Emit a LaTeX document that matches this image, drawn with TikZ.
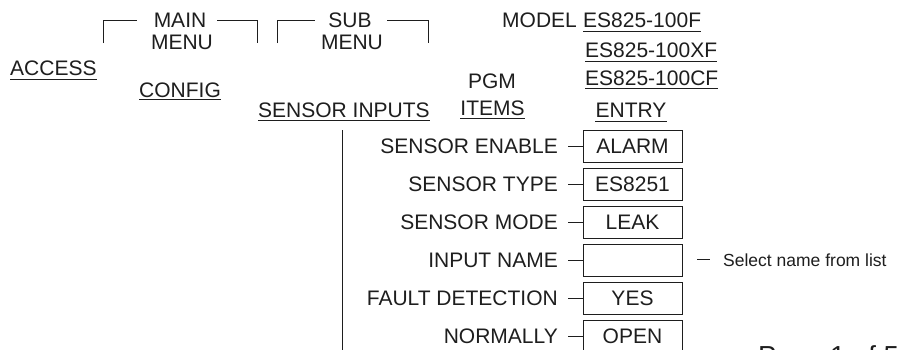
\documentclass[tikz,border=0pt]{standalone}
\usepackage{fontspec}
\setmainfont{Liberation Sans}
\definecolor{ink}{HTML}{1E1E1E}
\begin{document}
\begin{tikzpicture}[x=1pt,y=-1pt,
  lbl/.style={inner sep=0pt, text=ink, font=\fontsize{21}{25}\selectfont},
  small/.style={inner sep=0pt, text=ink, font=\fontsize{17.5}{21}\selectfont},
  big/.style={inner sep=0pt, text=ink, font=\fontsize{27.5}{32}\selectfont},
  valbox/.style={draw=ink, line width=1pt, minimum width=99pt, minimum height=32pt, inner sep=0pt,
    text height=15pt, text depth=0pt, text=ink, font=\fontsize{21}{25}\selectfont},
  ln/.style={draw=ink, line width=1pt}]
\useasboundingbox (0,0) rectangle (903,349);
\fill[white] (0,0) rectangle (903,349);

% bracket headings
\node[lbl, anchor=base] (mainA) at (180,27) {MAIN};
\node[lbl, anchor=base] (mainB) at (182,49) {MENU};
\draw[ln] (103,43) -- (103,20) -- (137,20);
\draw[ln] (217,20) -- (257,20) -- (257,43);
\node[lbl, anchor=base] (subA) at (350,27) {SUB};
\node[lbl, anchor=base] (subB) at (352,49) {MENU};
\draw[ln] (277,43) -- (277,20) -- (315,20);
\draw[ln] (387,20) -- (428,20) -- (428,43);

% menu path
\node[lbl, anchor=base west] (access) at (10,75.5) {ACCESS};
\node[lbl, anchor=base west] (config) at (139,97) {CONFIG};
\node[lbl, anchor=base west] (sinputs) at (258,117) {SENSOR INPUTS};
\node[lbl, anchor=base west] (model) at (502,27.5) {MODEL};
\node[lbl, anchor=base west] (m1) at (583,27.5) {ES825-100F};
\node[lbl, anchor=base west] (m2) at (585,57.5) {ES825-100XF};
\node[lbl, anchor=base west] (m3) at (585,85) {ES825-100CF};
\node[lbl, anchor=base] (pgm) at (492,88) {PGM};
\node[lbl, anchor=base] (items) at (492.5,115) {ITEMS};
\node[lbl, anchor=base] (entry) at (631,117) {ENTRY};

\foreach \n/\d in {access/3.5, config/2.5, sinputs/3, m1/4, m2/3.5, m3/3, items/3, entry/4}{
  \draw[ln] ([yshift=-\d pt]\n.base west) -- ([yshift=-\d pt]\n.base east);
}

% vertical trunk
\coordinate (trunkTop) at (342,130);
\coordinate (trunkBot) at (342,352);
\draw[ln] (trunkTop) -- (trunkBot);

% rows
\foreach \i/\lab/\val/\y in {1/SENSOR ENABLE/ALARM/146, 2/SENSOR TYPE/ES8251/184, 3/SENSOR MODE/LEAK/222,
  4/INPUT NAME//260, 5/FAULT DETECTION/YES/298, 6/NORMALLY/OPEN/336}{
  \node[valbox] (box\i) at (632.5,\y) {\val};
  \node[lbl, anchor=base east] (lab\i) at (558,\y+7.5) {\lab};
  \draw[ln] ([xshift=10pt]lab\i.east |- box\i.west) -- (box\i.west);
}

% note
\node[small, anchor=base west] (note) at (723,266) {Select name from list};
\draw[ln] ([xshift=-26pt]note.west) -- ([xshift=-13pt]note.west);

% page footer (cut off by the page edge, as in the reference)
\node[big, anchor=base west] (page) at (758,365) {Page 1 of 5};
\end{tikzpicture}
\end{document}
